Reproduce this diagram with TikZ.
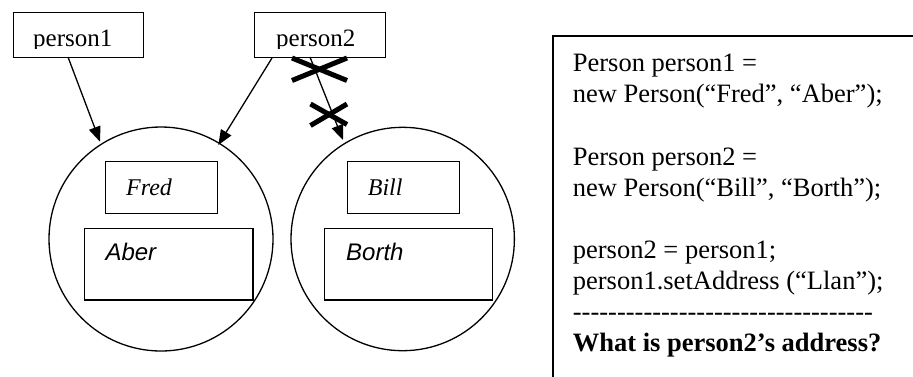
\documentclass[tikz,border=0pt]{standalone}
\usepackage{fontspec}
\setmainfont{Liberation Serif}
\newfontfamily\arialfont{Liberation Sans}
\usetikzlibrary{arrows.meta}
\begin{document}
\begin{tikzpicture}[x=1pt,y=-1pt,
  thin box/.style={draw, line width=1.3pt, inner sep=0pt, anchor=north west},
  obj/.style={draw, circle, line width=1.3pt, inner sep=0pt, minimum size=224pt},
  lbl/.style={anchor=base west, inner sep=0pt, font=\fontsize{25}{30}\selectfont},
  serif it/.style={anchor=base west, inner sep=0pt, font=\fontsize{24}{28}\selectfont\itshape},
  sans it/.style={anchor=base west, inner sep=0pt, font=\fontsize{24}{28}\selectfont\arialfont\itshape},
  code/.style={anchor=base west, inner sep=0pt, font=\fontsize{26.5}{31}\selectfont},
  ref/.style={line width=1.3pt, -{Triangle[length=15pt,width=12pt]}},
  cross/.style={line width=5pt}]
\clip (0,0) rectangle (913,376);
\fill[white] (0,0) rectangle (913,376);

% variable boxes
\node[thin box, minimum width=130pt, minimum height=45pt] (p1) at (12.7,11.7) {};
\node[thin box, minimum width=131pt, minimum height=45pt] (p2) at (254,11.7) {};
\begin{scope}
  \clip (0,0) rectangle (913,48.5);
  \node[lbl] (p1t) at (33,46.7) {person1};
  \node[lbl] (p2t) at (276,46.7) {person2};
\end{scope}

% objects
\node[obj] (o1) at (161,239) {};
\node[obj, minimum size=223.4pt] (o2) at (402.7,239) {};

\node[thin box, minimum width=111.7pt, minimum height=52.3pt] (f1) at (105,160.7) {};
\node[thin box, minimum width=168.6pt, minimum height=71.6pt] (a1) at (83.7,227.7) {};
\node[thin box, minimum width=112.3pt, minimum height=52.3pt] (f2) at (346.7,160.7) {};
\node[thin box, minimum width=167.7pt, minimum height=71.6pt] (a2) at (324,227.7) {};

\node[serif it] (fred) at (126,195.7) {Fred};
\node[sans it] (aber) at (105.3,260) {Aber};
\node[serif it] (bill) at (367.7,195.7) {Bill};
\node[sans it] (borth) at (346,260) {Borth};

% references
\coordinate (s1) at (68,57);
\coordinate (e1) at (100,141.7);
\coordinate (s2) at (272,58);
\coordinate (e2) at (218.3,145);
\coordinate (s3) at (310,57);
\coordinate (e3) at (343,140);
\draw[ref] (s1) -- (e1);
\draw[ref] (s2) -- (e2);
\draw[ref] (s3) -- (e3);

% crosses
\draw[cross] (292,58) -- (347,80.5);
\draw[cross] (292,80.5) -- (347,58);
\draw[cross] (310.5,104) -- (347,124.5);
\draw[cross] (310.5,125.5) -- (347,104);

% code panel
\node[draw, line width=1.8pt, inner sep=0pt, anchor=north west, minimum width=400pt, minimum height=400pt] (panel) at (551.7,35) {};
\node[code] (l1) at (572.7,71.7) {Person person1 =};
\node[code] (l2) at (572.7,102.8) {new Person(“Fred”, “Aber”);};
\node[code] (l3) at (572.7,165.0) {Person person2 =};
\node[code] (l4) at (572.7,196.1) {new Person(“Bill”, “Borth”);};
\node[code] (l5) at (572.7,258.3) {person2 = person1;};
\node[code] (l6) at (572.7,289.4) {person1.setAddress (“Llan”);};
\node[code] (l7) at (572.7,320.5) {\foreach \k in {1,...,34}{\mbox{-}}};
\node[code, font=\fontsize{26.5}{31}\selectfont\bfseries] (l8) at (572.7,351.6) {What is person2’s address?};
\end{tikzpicture}
\end{document}
